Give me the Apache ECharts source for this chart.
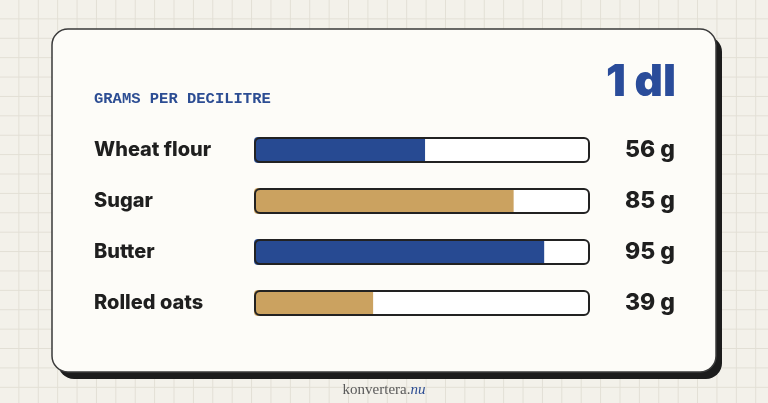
<!DOCTYPE html>
<html>
<head>
<meta charset="utf-8">
<script src="https://cdn.jsdelivr.net/npm/echarts@6/dist/echarts.min.js"></script>
<style>
html,body{margin:0;padding:0;}
body{
  width:768px;height:403px;overflow:hidden;
  background-color:#f3f1ea;
  background-image:
    linear-gradient(to right, #e2dfd5 1px, transparent 1px),
    linear-gradient(to bottom, #e2dfd5 1px, transparent 1px);
  background-size:19.4px 19.4px;
  background-position:-1px -1px;
}
#chart{width:768px;height:403px;}
</style>
</head>
<body>
<div id="chart"></div>
<script>
// ---- data ----
const categories = ['Wheat flour', 'Sugar', 'Butter', 'Rolled oats'];
const values = [56, 85, 95, 39];
const unit = 'g';
const scaleMax = 110;
const titleText = 'GRAMS PER DECILITRE';
const volumeText = '1 dl';

const blue = '#274a92';
const tan = '#cba260';
const barColors = [blue, tan, blue, tan];
const ink = '#1f1f1f';

const chart = echarts.init(document.getElementById('chart'), null, {renderer: 'canvas'});

const option = {
  backgroundColor: 'transparent',
  animation: false,
  graphic: [
    { type: 'rect', z: -10, shape: { x: 58, y: 36, width: 664, height: 343, r: 16 }, style: { fill: '#1c1c1c' } },
    { type: 'rect', z: -9, shape: { x: 52, y: 29, width: 664, height: 343, r: 16 }, style: { fill: '#fdfcf8', stroke: '#3a3a3a', lineWidth: 1.5 } }
  ],
  title: [
    { text: titleText, left: 94, top: 91, padding: 0,
      textStyle: { fontFamily: 'Liberation Mono', fontWeight: 'bold', fontSize: 15.5, color: '#2c4d93' } },
    { text: volumeText, right: 92, top: 61, padding: 0,
      textStyle: { fontFamily: 'Inter', fontWeight: 900, fontSize: 44, color: '#2a4c9a' } },
    { text: '{a|konvertera.}{b|nu}', left: 'center', top: 383, padding: 0,
      textStyle: { fontWeight: 'normal', rich: {
        a: { fontFamily: 'Liberation Serif', fontWeight: 'normal', fontSize: 15, color: '#5a5a5a' },
        b: { fontFamily: 'Liberation Serif', fontWeight: 'normal', fontSize: 15, fontStyle: 'italic', color: '#2c4d93' }
      } } }
  ],
  grid: { left: 254, width: 336, top: 124.5, height: 204 },
  xAxis: { type: 'value', min: 0, max: scaleMax, show: false },
  yAxis: [
    { type: 'category', data: categories, inverse: true,
      axisLine: { show: false }, axisTick: { show: false }, splitLine: { show: false },
      axisLabel: { align: 'left', margin: 160, fontFamily: 'Inter', fontWeight: 800, fontSize: 20, color: ink } },
    { type: 'category', position: 'right', inverse: true,
      data: values.map(v => v + ' ' + unit),
      axisLine: { show: false }, axisTick: { show: false }, splitLine: { show: false },
      axisLabel: { align: 'right', margin: 85, fontFamily: 'Inter', fontWeight: 800, fontSize: 23, color: ink } }
  ],
  series: [
    { name: 'track', type: 'bar', barWidth: 26, barGap: '-100%', z: 1,
      data: categories.map(() => scaleMax), silent: true,
      itemStyle: { color: '#ffffff', borderRadius: 5 } },
    { name: 'value', type: 'bar', barWidth: 26, barGap: '-100%', z: 2,
      data: values.map((v, i) => ({ value: v, itemStyle: { color: barColors[i] } })),
      itemStyle: { borderRadius: [4, 0, 0, 4] } },
    { name: 'outline', type: 'bar', barWidth: 26, barGap: '-100%', z: 3,
      data: categories.map(() => scaleMax), silent: true,
      itemStyle: { color: 'transparent', borderColor: '#222222', borderWidth: 2, borderRadius: 5 } }
  ]
};
chart.setOption(option);
</script>
</body>
</html>
